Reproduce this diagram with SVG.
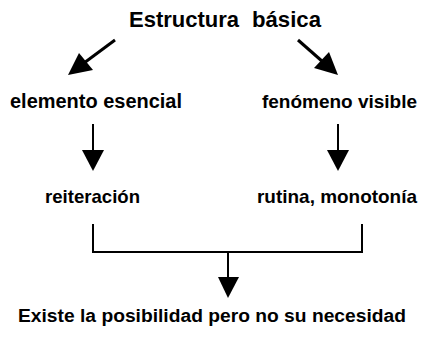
<svg xmlns="http://www.w3.org/2000/svg" width="422" height="338" viewBox="0 0 422 338">
<style>
text{font-family:"Liberation Sans",Arial,sans-serif;font-weight:bold;fill:#000}
.ln{stroke:#000;fill:none;stroke-linecap:butt;stroke-linejoin:miter}
.hd{fill:#000;stroke:none}
</style>
<rect width="422" height="338" fill="#fff"/>
<g id="n-estructura"><text x="129" y="27" font-size="22" textLength="110" lengthAdjust="spacingAndGlyphs">Estructura</text><text x="252" y="27" font-size="22" textLength="69" lengthAdjust="spacingAndGlyphs">básica</text></g>
<g id="n-elemento"><text x="10" y="108" font-size="20" textLength="172" lengthAdjust="spacingAndGlyphs">elemento esencial</text></g>
<g id="n-fenomeno"><text x="262" y="108" font-size="19" textLength="155" lengthAdjust="spacingAndGlyphs">fenómeno visible</text></g>
<g id="n-reiteracion"><text x="45" y="203" font-size="19" textLength="95" lengthAdjust="spacingAndGlyphs">reiteración</text></g>
<g id="n-rutina"><text x="257" y="203" font-size="19" textLength="160" lengthAdjust="spacingAndGlyphs">rutina, monotonía</text></g>
<g id="n-existe"><text x="18" y="322" font-size="19.2" textLength="388" lengthAdjust="spacingAndGlyphs">Existe la posibilidad pero no su necesidad</text></g>
<g id="connectors">
<line class="ln" x1="115" y1="40" x2="84" y2="63" stroke-width="3"/>
<polygon class="hd" points="68,75 79,53 93,70"/>
<line class="ln" x1="298" y1="40" x2="323" y2="62" stroke-width="3"/>
<polygon class="hd" points="338,75 314,68 329,52"/>
<line class="ln" x1="93" y1="124" x2="93" y2="152" stroke-width="2"/>
<polygon class="hd" points="82,150 104,150 93,171"/>
<line class="ln" x1="338" y1="124" x2="338" y2="152" stroke-width="2"/>
<polygon class="hd" points="327,150 349,150 338,171"/>
<polyline class="ln" points="93,224 93,252 362,252 362,224" stroke-width="2"/>
<line class="ln" x1="228" y1="252" x2="228" y2="279" stroke-width="2"/>
<polygon class="hd" points="218,277 239,277 228,298"/>
</g>
</svg>
